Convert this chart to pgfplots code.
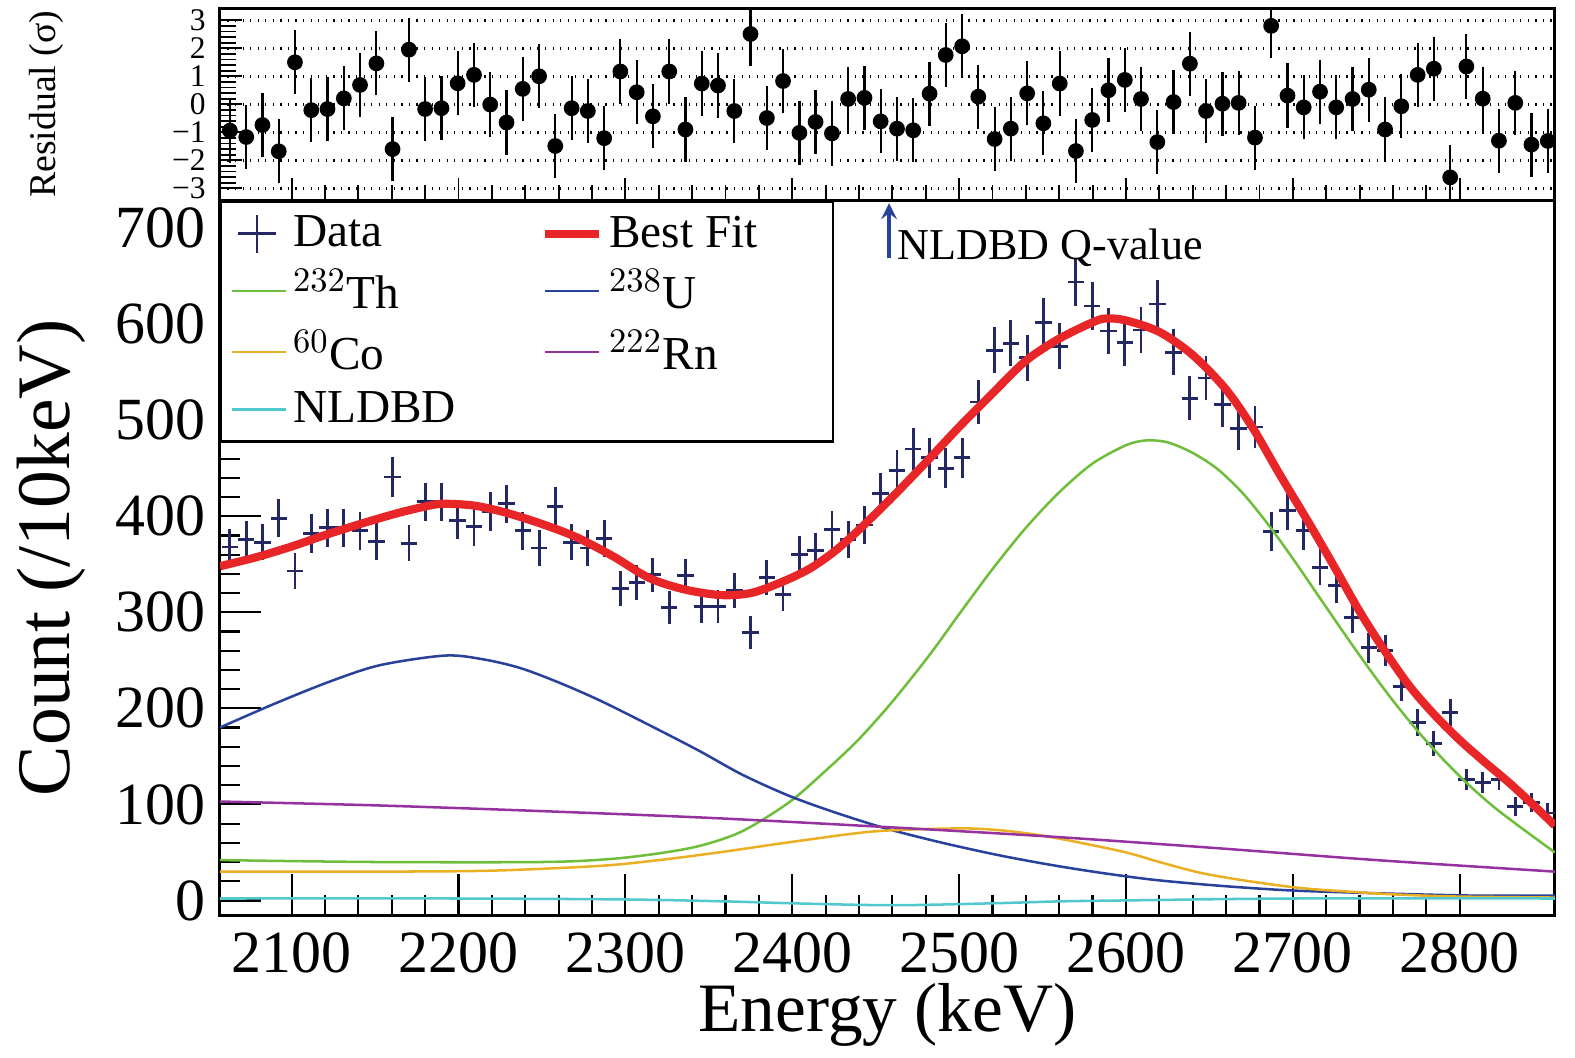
\documentclass[border=0pt]{standalone}
\usepackage{pgfplots}
\pgfplotsset{compat=1.18}
\usepackage{pgfplotstable}
\usepackage{fontspec}
\setmainfont{Liberation Serif}
\definecolor{dnavy}{RGB}{35,40,100}
\definecolor{fred}{RGB}{232,38,40}
\definecolor{thg}{RGB}{110,190,60}
\definecolor{ub}{RGB}{40,65,155}
\definecolor{coo}{RGB}{235,175,35}
\definecolor{rnp}{RGB}{150,50,160}
\definecolor{ndc}{RGB}{80,200,205}
\pgfplotstableread{
E y ey
2063.0 368 19
2072.8 376 19
2082.5 373 19
2092.3 398 20
2102.0 343 19
2111.8 382 20
2121.5 388 20
2131.3 388 20
2141.0 385 20
2150.8 374 19
2160.5 441 21
2170.3 372 19
2180.0 415 20
2189.8 415 20
2199.5 396 20
2209.3 389 20
2219.0 405 20
2228.8 413 20
2238.5 385 20
2248.3 367 19
2258.0 410 20
2267.8 373 19
2277.5 367 19
2287.3 377 19
2297.0 325 18
2306.8 331 18
2316.5 339 18
2326.3 305 17
2336.0 338 18
2345.8 306 17
2355.5 306 17
2365.3 323 18
2375.0 279 17
2384.8 336 18
2394.5 319 18
2404.3 360 19
2414.0 364 19
2423.8 386 20
2433.5 376 19
2443.3 391 20
2453.0 424 21
2462.8 448 21
2472.5 470 22
2482.3 461 21
2492.0 450 21
2501.8 461 21
2511.5 519 23
2521.3 573 24
2531.0 580 24
2540.8 565 24
2550.5 602 25
2560.3 577 24
2570.0 644 25
2579.8 619 25
2589.5 593 24
2599.3 581 24
2609.0 594 24
2618.8 621 25
2628.5 571 24
2638.3 523 23
2648.0 544 23
2657.8 516 23
2667.5 491 22
2677.3 493 22
2687.0 384 20
2696.8 406 20
2706.5 385 20
2716.3 347 19
2726.0 328 18
2735.8 295 17
2745.5 263 16
2755.3 260 16
2765.0 223 15
2774.8 185 14
2784.5 163 13
2794.3 196 14
2804.0 126 11
2813.8 123 11
2823.5 126 11
2833.3 98 10
2843.0 102 10
2852.8 91 10
}\datatab
\pgfplotstableread{
E r
2063.0 -0.94
2072.8 -1.17
2082.5 -0.74
2092.3 -1.68
2102.0 1.50
2111.8 -0.21
2121.5 -0.17
2131.3 0.21
2141.0 0.69
2150.8 1.46
2160.5 -1.60
2170.3 1.95
2180.0 -0.17
2189.8 -0.14
2199.5 0.75
2209.3 1.05
2219.0 -0.01
2228.8 -0.65
2238.5 0.55
2248.3 1.00
2258.0 -1.49
2267.8 -0.14
2277.5 -0.24
2287.3 -1.21
2297.0 1.17
2306.8 0.43
2316.5 -0.43
2326.3 1.17
2336.0 -0.90
2345.8 0.74
2355.5 0.67
2365.3 -0.24
2375.0 2.51
2384.8 -0.49
2394.5 0.83
2404.3 -1.02
2414.0 -0.63
2423.8 -1.04
2433.5 0.19
2443.3 0.23
2453.0 -0.61
2462.8 -0.87
2472.5 -0.93
2482.3 0.38
2492.0 1.76
2501.8 2.07
2511.5 0.27
2521.3 -1.24
2531.0 -0.87
2540.8 0.39
2550.5 -0.68
2560.3 0.74
2570.0 -1.67
2579.8 -0.56
2589.5 0.50
2599.3 0.87
2609.0 0.19
2618.8 -1.35
2628.5 0.08
2638.3 1.45
2648.0 -0.24
2657.8 0.02
2667.5 0.05
2677.3 -1.19
2687.0 2.80
2696.8 0.31
2706.5 -0.11
2716.3 0.45
2726.0 -0.11
2735.8 0.19
2745.5 0.52
2755.3 -0.90
2765.0 -0.07
2774.8 1.05
2784.5 1.27
2794.3 -2.61
2804.0 1.35
2813.8 0.20
2823.5 -1.30
2833.3 0.05
2843.0 -1.44
2852.8 -1.31
}\restab
\begin{document}
\begin{tikzpicture}
\useasboundingbox (-69.8pt,-45pt) rectangle (430.2pt,290.6pt);
\begin{axis}[
  at={(0,0)}, anchor=south west, scale only axis,
  width=423.8pt, height=227pt,
  xmin=2057, xmax=2857, ymin=-15.6, ymax=729,
  xtick={2100,2200,...,2800}, ytick={0,100,...,700},
  minor x tick num=4, minor y tick num=4,
  xtick pos=bottom, ytick pos=left, tick align=inside,
  major tick length=13pt, minor tick length=6.5pt,
  every tick/.style={black, line width=0.7pt},
  axis line style={line width=0.9pt},
  /pgf/number format/assume math mode=true,
  /pgf/number format/1000 sep={},
  ticklabel style={font=\fontsize{19}{22}\selectfont},
  xticklabel style={yshift=-2pt},
  yticklabel style={xshift=-1pt},
  xlabel={Energy (keV)}, ylabel={Count (/10keV)},
  xlabel style={font=\fontsize{22}{26}\selectfont, at={(axis description cs:0.5,-0.1396)}, anchor=center},
  ylabel style={font=\fontsize{24}{28}\selectfont, at={(axis description cs:-0.126,0.5)}, anchor=center},
  clip mode=individual,
  legend columns=2,
  legend cell align=left,
  legend style={at={(0,1)}, anchor=north west, draw=black, line width=0.8pt, fill=white,
    font=\fontsize{15}{18}\selectfont, row sep=1.6pt, inner xsep=3pt, inner ysep=2.5pt,
    /tikz/every even column/.append style={column sep=25pt}},
]
\addplot[draw=none, mark=none, forget plot, error bars/.cd, x dir=both, x fixed=4.9, y dir=both, y explicit,
  error mark=none, error bar style={draw=dnavy, line width=0.9pt}]
  table[x=E, y=y, y error=ey]{\datatab};
\addlegendimage{legend image code/.code={\draw[dnavy, line width=0.9pt] (2pt,0pt)--(14pt,0pt); \draw[dnavy, line width=0.9pt] (8pt,-6pt)--(8pt,6pt);}}
\addlegendentry{Data}
\addplot[fred, line width=2.6pt, smooth] coordinates {(2057,348)(2078,357)(2099,368)(2121,381)(2143,393)(2165,404)(2185,412)(2194,413)(2210,411)(2228,404)(2250,392)(2271,378)(2293,358)(2314,336)(2335,324)(2357,318)(2375,320)(2393,331)(2410,345)(2425,363)(2440,386)(2460,420)(2480,456)(2500,493)(2520,528)(2540,562)(2560,585)(2580,602)(2588,606)(2600,604)(2620,592)(2640,568)(2660,532)(2676,492)(2692,444)(2710,392)(2725,347)(2740,301)(2755,260)(2770,223)(2785,193)(2800,167)(2815,144)(2830,122)(2845,98)(2857,78)};
\addlegendentry{Best Fit\rule{19pt}{0pt}}
\addplot[thg, line width=0.8pt, smooth] coordinates {(2057,42)(2150,40)(2250,40)(2290,43)(2320,49)(2345,57)(2370,72)(2398,102)(2420,135)(2440,168)(2460,207)(2482,255)(2500,298)(2520,345)(2540,388)(2560,425)(2580,455)(2600,474)(2612,479)(2625,477)(2640,466)(2655,449)(2670,424)(2685,392)(2700,356)(2715,318)(2730,280)(2745,243)(2760,208)(2775,176)(2790,147)(2805,121)(2820,98)(2835,78)(2857,50)};
\addlegendentry{$^{232}$Th}
\addplot[ub, line width=0.8pt, smooth] coordinates {(2057,180)(2090,205)(2123,228)(2153,245)(2192,255)(2215,251)(2237,242)(2260,227)(2285,208)(2315,182)(2344,156)(2370,131)(2398,109)(2425,92)(2456,75)(2490,60)(2524,47)(2555,37)(2584,29)(2614,22)(2644,17)(2674,13)(2704,10)(2760,7)(2810,5)(2857,5)};
\addlegendentry{$^{238}$U}
\addplot[coo, line width=0.8pt, smooth] coordinates {(2057,30)(2150,30)(2220,31)(2285,36)(2320,42)(2356,50)(2404,62)(2450,72)(2500,75)(2525,73)(2548,68)(2570,61)(2600,50)(2620,40)(2644,29)(2670,21)(2704,13)(2735,9)(2764,6)(2800,4)(2857,3)};
\addlegendentry{$^{60}$Co}
\addplot[rnp, line width=0.8pt, smooth] coordinates {(2057,103)(2150,99)(2250,93)(2350,86)(2450,77)(2550,67)(2650,55)(2750,42)(2857,30)};
\addlegendentry{$^{222}$Rn}
\addplot[ndc, line width=0.8pt, smooth] coordinates {(2057,2)(2200,2)(2300,1)(2360,-1)(2400,-3)(2460,-5)(2520,-3)(2560,-1)(2600,0)(2700,2)(2857,2)};
\addlegendentry{NLDBD}
\draw[->, ub, line width=1.2pt, >=stealth] (axis cs:2458,669) -- (axis cs:2458,726);
\node[anchor=west, font=\fontsize{14}{17}\selectfont, inner sep=1pt] at (axis cs:2461,680) {NLDBD Q-value};
\end{axis}
\begin{axis}[
  at={(0,227pt)}, anchor=south west, scale only axis,
  width=423.8pt, height=61pt,
  xmin=2057, xmax=2857, ymin=-3.43, ymax=3.43,
  xtick={2100,2200,...,2800}, xticklabels={},
  minor x tick num=4, minor y tick num=4,
  ytick={-3,...,3}, yticklabels={−3,−2,−1,0,1,2,3},
  xtick pos=bottom, ytick pos=left, tick align=inside,
  major tick length=7pt, minor tick length=5pt,
  every tick/.style={black, line width=0.6pt},
  axis line style={line width=0.9pt},
  ymajorgrids, grid style={dotted, black, line width=0.8pt},
  yticklabel style={font=\fontsize{10}{11}\selectfont, xshift=-1pt},
  ylabel={Residual (σ)},
  ylabel style={font=\fontsize{12}{14}\selectfont, at={(axis description cs:-0.13,0.5)}, anchor=center},
]
\addplot[only marks, mark=*, mark size=2.3pt, black, error bars/.cd, y dir=both, y fixed=1,
  error bar style={black, line width=0.7pt}, error mark options={black, mark size=1.3pt, line width=0.7pt}]
  table[x=E, y=r]{\restab};
\end{axis}
\end{tikzpicture}
\end{document}
